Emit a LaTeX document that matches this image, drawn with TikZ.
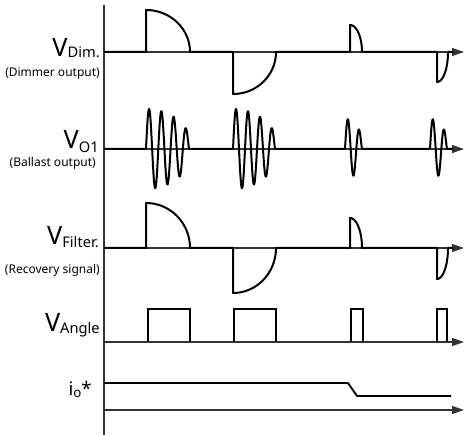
\documentclass[tikz,border=0pt]{standalone}
\usepackage{fontspec}
\setmainfont{Noto Sans}
\usetikzlibrary{arrows.meta}
\begin{document}
\begin{tikzpicture}[x=0.75pt,y=-0.75pt,
  axisl/.style={line width=0.8pt, draw=black!80},
  arr/.style={-{Triangle[length=9pt,width=6pt]}},
  sig/.style={line width=1.5pt, line join=round},
  rectsig/.style={line width=1pt, line join=miter},
  iline/.style={line width=1.4pt, line join=round},
  biglab/.style={anchor=base east, inner sep=0pt, font=\fontsize{19}{20}\selectfont},
  smalllab/.style={anchor=east, inner sep=0pt, font=\fontsize{9}{10}\selectfont},
  qp/.style n args={4}{insert path={-- (#1,#4) -- (#1,#4-#3) -- plot[domain=0:90,samples=40] ({#1+#2*sin(\x)},{#4-#3*cos(\x)})}},
  burst/.style n args={5}{insert path={-- (#1,#4) -- plot[domain=0:1,samples=160,smooth] ({#1+#2*\x},{#4-#3*sqrt(max(0,1-0.85*\x*\x))*sin(#5*360*\x)})}}]
\useasboundingbox (0,0) rectangle (465,435);
% vertical axis
\coordinate (vtop) at (104,5);
\coordinate (vbot) at (104,435);
\draw[axisl] (vtop) -- (vbot);
% horizontal axes
\foreach \yy/\nm in {52/a, 149/b, 248/c, 342/d, 410/e}{
  \coordinate (s\nm) at (104,\yy);
  \coordinate (t\nm) at (464,\yy);
  \draw[axisl,arr] (s\nm) -- (t\nm);
}
% V_Dim
\draw[sig] (104,52) [qp={146}{44}{42}{52}] [qp={233}{43}{-42}{52}] [qp={350}{12}{27}{52}] [qp={437}{11}{-30}{52}] -- (453,52);
% V_O1
\draw[sig] (104,149) [burst={146}{43}{40}{149}{3.5}] [burst={233}{42}{40}{149}{3.5}] [burst={345}{17}{30}{149}{1.5}] [burst={430}{17}{30}{149}{1.5}] -- (453,149);
% V_Filter
\draw[sig] (104,248) [qp={146}{44}{45}{248}] [qp={233}{43}{-45}{248}] [qp={350}{12}{30}{248}] [qp={437}{11}{-31}{248}] -- (453,248);
% V_Angle
\draw[rectsig] (148,342) -- (148,309) -- (190,309) -- (190,342);
\draw[rectsig] (234,342) -- (234,309) -- (276,309) -- (276,342);
\draw[rectsig] (351,342) -- (351,309) -- (363,309) -- (363,342);
\draw[rectsig] (437,342) -- (437,309) -- (447,309) -- (447,342);
% i_o*
\draw[iline] (104,383) -- (348,383) -- (357,396) -- (451,396);
% labels
\node[biglab] (ldim) at (100,57) {V\raisebox{-0.5pt}{\fontsize{11}{12}\selectfont Dim.}};
\node[smalllab] (ldimn) at (100,74) {(Dimmer output)};
\node[biglab] (lo1) at (99,149) {V\raisebox{-3pt}{\fontsize{11}{12}\selectfont O1}};
\node[smalllab] (lbal) at (96,163) {(Ballast output)};
\node[biglab] (lfil) at (99,245) {V\raisebox{-2pt}{\fontsize{11}{12}\selectfont Filter.}};
\node[smalllab] (lrec) at (100,270) {(Recovery signal)};
\node[biglab] (lang) at (100,331) {V\raisebox{-2pt}{\fontsize{11}{12}\selectfont Angle}};
\node[biglab, font=\fontsize{14}{16}\selectfont] (lio) at (92,395) {i\raisebox{-2pt}{\fontsize{10}{12}\selectfont o}*};
\end{tikzpicture}
\end{document}
